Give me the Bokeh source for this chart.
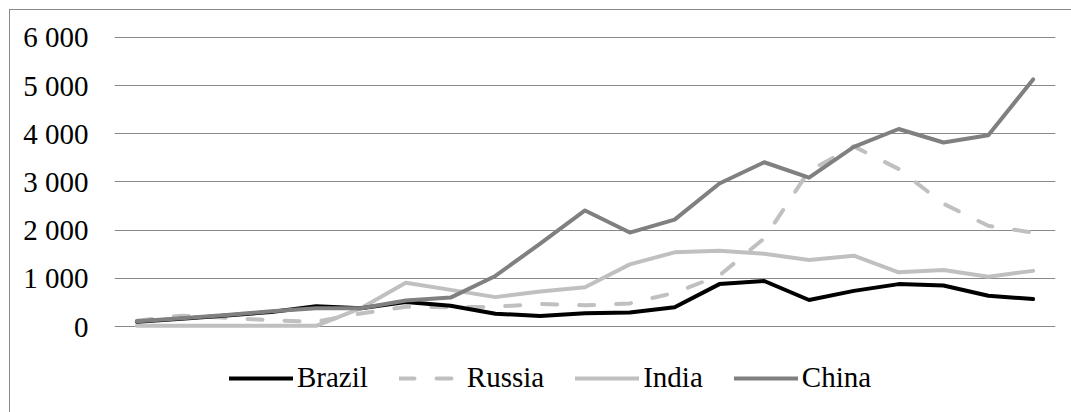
from bokeh.plotting import figure
from bokeh.models import Range1d, FixedTicker, Legend, LegendItem, ColumnDataSource
from bokeh.embed import file_html
from bokeh.resources import INLINE

# ---- data ----
periods = list(range(21))
brazil = [100, 160, 230, 300, 420, 380, 510, 430, 265, 220, 275, 290, 400,
          880, 945, 550, 740, 880, 850, 640, 570]
russia = [120, 225, 180, 130, 100, 270, 410, 400, 410, 470, 440, 480, 700,
          1060, 1830, 3230, 3740, 3270, 2550, 2090, 1950]
india = [15, 15, 15, 15, 15, 380, 910, 760, 610, 725, 815, 1290, 1540,
         1575, 1510, 1380, 1470, 1125, 1175, 1035, 1155]
china = [110, 170, 240, 315, 380, 380, 540, 600, 1050, 1720, 2410, 1950, 2220,
         2970, 3410, 3090, 3730, 4100, 3820, 3970, 5130]
series_names = ["Brazil", "Russia", "India", "China"]
y_ticks = [0, 1000, 2000, 3000, 4000, 5000, 6000]
y_tick_labels = ["0", "1 000", "2 000", "3 000", "4 000", "5 000", "6 000"]

FONT = "Liberation Serif"
FSIZE = "29px"

# frame extends below the zero line so that the legend sits inside it
p = figure(
    output_backend="svg", toolbar_location=None,
    frame_width=941, frame_height=365,
    min_border_left=104, min_border_right=16, min_border_top=25, min_border_bottom=12,
    x_range=Range1d(-0.5, 20.5),
    y_range=Range1d(-1536.3, 6041.5),
    background_fill_color="white", border_fill_color="white",
    outline_line_color=None,
)
p.styles = {"margin-left": "9px", "margin-top": "9px",
            "border-left": "1px solid #898989", "border-top": "1px solid #898989"}

p.xaxis.visible = False
p.xgrid.visible = False
p.ygrid.grid_line_color = "#898989"
p.ygrid.grid_line_width = 1
p.ygrid.ticker = FixedTicker(ticks=y_ticks)

ya = p.yaxis[0]
ya.ticker = FixedTicker(ticks=y_ticks)
ya.major_label_overrides = {t: l for t, l in zip(y_ticks, y_tick_labels)}
ya.axis_line_color = None
ya.major_tick_line_color = None
ya.minor_tick_line_color = None
ya.major_tick_out = 0
ya.major_tick_in = 0
ya.major_label_standoff = 26
ya.major_label_text_font = FONT
ya.major_label_text_font_size = FSIZE
ya.major_label_text_color = "black"

src = ColumnDataSource(dict(x=periods, brazil=brazil, russia=russia, india=india, china=china))

r_india = p.line("x", "india", source=src, line_color="#c0c0c0", line_width=4,
                 line_join="round", line_cap="round")
r_russia = p.line("x", "russia", source=src, line_color="#c0c0c0", line_width=4,
                  line_dash="15 22", line_join="round", line_cap="round")
r_brazil = p.line("x", "brazil", source=src, line_color="black", line_width=4,
                  line_join="round", line_cap="round")
r_china = p.line("x", "china", source=src, line_color="#808080", line_width=4,
                 line_join="round", line_cap="round")

legend = Legend(
    items=[LegendItem(label=series_names[0], renderers=[r_brazil]),
           LegendItem(label=series_names[1], renderers=[r_russia]),
           LegendItem(label=series_names[2], renderers=[r_india]),
           LegendItem(label=series_names[3], renderers=[r_china])],
    orientation="horizontal",
    location=(115, 6),
    glyph_width=64, glyph_height=20,
    label_standoff=4, spacing=31,
    padding=0, margin=0,
    border_line_color=None, background_fill_alpha=0,
    label_text_font=FONT, label_text_font_size=FSIZE, label_text_color="black",
)
p.add_layout(legend, "center")

open("out.html", "w").write(file_html(p, INLINE))
